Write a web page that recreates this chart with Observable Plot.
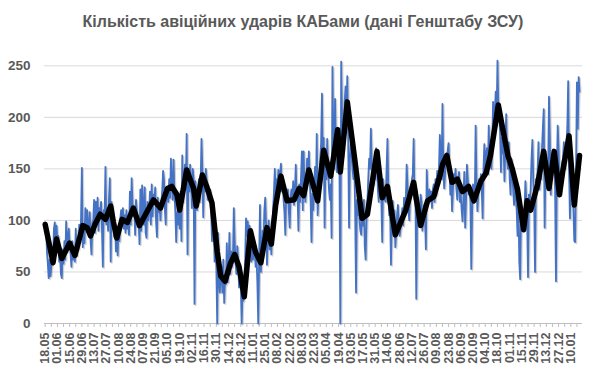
<!DOCTYPE html>
<html><head><meta charset="utf-8">
<script src="https://cdn.jsdelivr.net/npm/d3@7"></script>
<script src="https://cdn.jsdelivr.net/npm/@observablehq/plot@0.6"></script>
<style>
body{margin:0;background:#fff;width:590px;height:376px;overflow:hidden;font-family:"Liberation Sans",Arial,sans-serif}
#title{height:40px;box-sizing:border-box;padding-top:12px;padding-left:16px;text-align:center;font-weight:bold;font-size:16px;line-height:20px;color:#595959;white-space:nowrap}
#chart svg{display:block}
</style></head><body>
<div id="title">Кількість авіційних ударів КАБами (дані Генштабу ЗСУ)</div>
<div id="chart"></div>
<script>
// Daily strikes starting 18.05.2024
const startDate = "2024-05-18";
const dailyValues = [
98,94,70,58,44,62,46,
55,70,62,92,98,75,95,
78,85,60,66,48,44,72,
58,80,62,99,70,85,92,
76,68,55,80,62,72,60,
92,66,82,72,96,80,100,
151,74,90,78,112,92,110,
95,84,108,80,67,98,100,
120,88,118,96,122,90,112,
105,118,92,55,110,100,152,
96,108,90,120,141,60,118,
112,98,84,96,70,88,66,
94,80,102,110,96,112,92,
105,88,110,92,100,86,128,
96,141,118,104,112,86,120,
108,94,100,77,130,90,134,
116,96,132,88,83,118,100,
110,128,96,135,104,125,118,
132,98,84,122,108,116,100,
118,128,148,140,112,96,128,
132,118,140,122,160,138,120,
159,126,110,79,108,96,118,
92,128,80,163,118,135,154,
130,184,67,150,128,154,136,
112,150,140,19,138,125,110,
128,140,118,135,179,150,103,
142,128,150,138,120,130,126,
130,112,80,108,96,60,72,
55,0,88,40,30,45,55,
30,62,20,45,38,78,40,
52,88,48,70,55,62,112,
80,60,48,75,62,35,58,
40,0,31,22,45,60,102,
85,99,70,95,82,60,75,
62,80,70,55,65,40,0,
60,115,50,68,90,78,110,
122,95,57,85,100,72,88,
67,95,110,128,150,118,140,
130,149,138,145,155,128,140,
120,108,86,125,118,130,110,
93,122,130,118,138,115,128,
154,120,128,90,135,118,142,
167,110,167,128,118,135,160,
145,167,140,118,79,126,110,
130,152,120,184,105,122,140,
160,175,223,150,180,93,160,
140,179,150,130,120,135,83,
249,175,150,218,165,147,190,
186,155,0,254,200,163,185,
215,230,200,240,180,93,160,
175,163,150,140,155,110,30,
120,105,125,100,90,86,110,
95,120,75,62,100,118,140,
160,150,189,155,145,135,150,
140,170,160,130,118,145,140,
120,79,140,125,120,118,150,
179,130,105,112,57,100,119,
95,110,74,88,105,115,98,
85,92,100,112,95,122,108,
118,154,135,110,100,125,130,
140,145,179,120,132,24,110,
95,108,100,125,118,90,100,
115,105,72,149,125,118,130,
120,128,112,130,135,118,140,
125,148,135,150,183,160,140,
213,150,131,145,160,155,168,
175,150,125,138,109,130,145,
138,150,130,120,140,147,118,
125,110,99,120,147,93,120,
154,140,125,130,118,53,110,
135,128,120,192,140,109,125,
140,135,145,130,102,150,174,
150,165,170,145,192,160,155,
150,175,215,190,205,225,200,
255,210,203,185,147,180,165,
175,138,170,203,160,150,176,
140,125,160,145,130,115,140,
125,110,85,120,60,43,110,
90,100,95,110,138,120,100,
45,125,118,130,160,178,140,
120,50,140,135,150,176,130,
155,140,170,190,208,93,150,
135,140,145,220,180,125,150,
160,155,160,130,41,150,192,
170,130,125,140,155,160,176,
150,160,175,190,235,150,102,
140,125,150,110,80,79,150,
234,189,239,225
];
// Moving-average (black) line: day offset and value
const maDay = [0,9,13,19,28,34,40,43,48,52,57,63,69,75,78,82,88,94,101,108,115,124,132,140,145,151,154,162,170,173,180,185,191,197,201,206,212,217,222,228,235,241,247,254,259,264,270,277,285,291,296,302,312,319,327,335,338,346,354,363,369,380,386,392,401,413,422,430,438,445,452,455,460,466,472,478,485,491,499,505,510,519,524,530,535,541,548,552,556,564,571,577,583,589,593,600,606,612];
const maValue = [96,59,82,63,78,66,85,95,93,85,96,106,101,114,99,83,101,98,112,95,106,120,112,131,133,125,110,149,131,114,144,133,117,70,46,41,58,67,55,26,90,69,59,93,77,115,143,119,120,131,124,149,119,168,143,188,147,215,163,102,106,167,122,133,86,110,137,95,119,123,143,154,163,137,140,128,133,119,138,146,163,212,189,163,150,130,91,119,110,135,167,131,167,125,149,182,115,163];
const tickLabels = ["18.05","01.06","15.06","29.06","13.07","27.07","10.08","24.08","07.09","21.09","05.10","19.10","02.11","16.11","30.11","14.12","28.12","11.01","25.01","08.02","22.02","08.03","22.03","05.04","19.04","03.05","17.05","31.05","14.06","28.06","12.07","26.07","09.08","23.08","06.09","20.09","04.10","18.10","01.11","15.11","29.11","13.12","27.12","10.01"];
const yTicks = [0,50,100,150,200,250];

const DAY = 864e5;
const t0 = Date.parse(startDate + "T00:00:00Z");
const toDate = d => new Date(t0 + d * DAY);
const daily = dailyValues.map((v, i) => ({date: toDate(i), value: v}));
const ma = maDay.map((d, i) => ({date: toDate(d), value: maValue[i]}));
const labelDates = tickLabels.map((_, i) => toDate(i * 14));
const labelMap = new Map(labelDates.map((d, i) => [+d, tickLabels[i]]));
const minorDates = d3.range(0, dailyValues.length + 3, 7).map(toDate);

const plot = Plot.plot({
  width: 590, height: 336,
  marginLeft: 44, marginRight: 8, marginTop: 15, marginBottom: 53,
  style: {fontFamily: "'Liberation Sans', Arial, sans-serif", background: "#fff", color: "#595959", overflow: "visible"},
  x: {type: "utc", domain: [toDate(-0.8), toDate(dailyValues.length + 2.4)]},
  y: {domain: [0, 260]},
  marks: [
    Plot.gridY(yTicks, {stroke: "#d9d9d9", strokeOpacity: 1}),
    Plot.ruleY([0], {stroke: "#bfbfbf", strokeWidth: 1.2}),
    Plot.axisY(yTicks, {tickSize: 0, tickPadding: 14, fontSize: 13.5, fontWeight: "bold", fill: "#595959", label: null}),
    Plot.axisX(minorDates, {tickSize: 4, tickFormat: () => "", stroke: "#bfbfbf", label: null}),
    Plot.axisX(labelDates, {tickSize: 0, tickPadding: 9, tickRotate: -90, tickFormat: d => labelMap.get(+d), fontSize: 12.5, fontWeight: "bold", fill: "#595959", label: null}),
    Plot.line(daily, {x: "date", y: "value", stroke: "#999", strokeOpacity: 0.45, strokeWidth: 1.8, dx: 1.2, dy: 1.2}),
    Plot.line(daily, {x: "date", y: "value", stroke: "#4472c4", strokeWidth: 1.8}),
    Plot.line(ma, {x: "date", y: "value", stroke: "#000", strokeWidth: 5.5, strokeLinejoin: "round", strokeLinecap: "round"})
  ]
});
document.getElementById("chart").append(plot);
</script>
</body></html>
